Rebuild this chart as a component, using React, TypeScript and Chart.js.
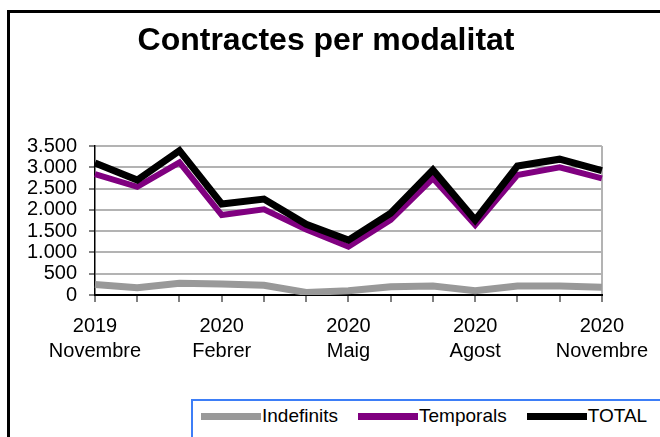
import React, { useEffect, useRef } from 'react';
import { Chart, registerables } from 'chart.js';

Chart.register(...registerables);

const categories = [
  '2019 Novembre', '2019 Desembre', '2020 Gener', '2020 Febrer', '2020 Març', '2020 Abril',
  '2020 Maig', '2020 Juny', '2020 Juliol', '2020 Agost', '2020 Setembre', '2020 Octubre', '2020 Novembre',
];
const xTickLabels: (string | string[])[] = [
  ['2019', 'Novembre'], '', '', ['2020', 'Febrer'], '', '', ['2020', 'Maig'], '', '',
  ['2020', 'Agost'], '', '', ['2020', 'Novembre'],
];
const yTickValues = [0, 500, 1000, 1500, 2000, 2500, 3000, 3500];
const yTickLabels = ['0', '500', '1.000', '1.500', '2.000', '2.500', '3.000', '3.500'];

const indefinits = [245, 170, 275, 258, 227, 60, 100, 196, 211, 102, 211, 211, 180];
const temporals = [2842, 2540, 3117, 1879, 2013, 1540, 1135, 1762, 2740, 1644, 2819, 3000, 2740];
const total = [3100, 2700, 3390, 2137, 2255, 1660, 1290, 1920, 2940, 1760, 3030, 3190, 2920];

const seriesNames = ['Indefinits', 'Temporals', 'TOTAL'];
const seriesColors = ['#999999', '#800080', '#000000'];

const FONT = "'Liberation Sans', Arial, Helvetica, sans-serif";
const GRID = '#b3b3b3';

export default function App() {
  const canvasRef = useRef<HTMLCanvasElement | null>(null);

  useEffect(() => {
    if (!canvasRef.current) return;
    const chart = new Chart(canvasRef.current, {
      type: 'line',
      data: {
        labels: categories,
        datasets: [
          { label: seriesNames[0], data: indefinits, borderColor: seriesColors[0], backgroundColor: seriesColors[0], borderWidth: 7, order: 3 },
          { label: seriesNames[1], data: temporals, borderColor: seriesColors[1], backgroundColor: seriesColors[1], borderWidth: 6, order: 2 },
          { label: seriesNames[2], data: total, borderColor: seriesColors[2], backgroundColor: seriesColors[2], borderWidth: 7, order: 1 },
        ],
      },
      options: {
        responsive: false,
        animation: false,
        devicePixelRatio: 1,
        layout: { padding: { left: 0, right: 8, top: 0, bottom: 0 } },
        elements: {
          point: { radius: 0, hoverRadius: 0 },
          line: { tension: 0, borderJoinStyle: 'miter', borderCapStyle: 'butt', fill: false },
        },
        plugins: {
          legend: { display: false },
          tooltip: { enabled: false },
          title: {
            display: true,
            text: 'Contractes per modalitat',
            color: '#000',
            font: { family: FONT, size: 32, weight: 'bold', lineHeight: 1.2 },
            padding: { top: 21.8, bottom: 85.8 },
          },
        },
        scales: {
          x: {
            type: 'category',
            offset: false,
            grid: {
              color: (c: any) => (c.index === categories.length - 1 ? GRID : 'rgba(0,0,0,0)'),
              lineWidth: 2,
              tickColor: '#000',
              tickWidth: 1,
              tickLength: 7,
            },
            border: { color: '#000', width: 2 },
            ticks: {
              autoSkip: false,
              maxRotation: 0,
              minRotation: 0,
              padding: 12,
              color: '#000',
              font: { family: FONT, size: 20, lineHeight: 1.25 },
              callback: (_v: any, i: number) => xTickLabels[i],
            },
            afterFit: (s: any) => { s.height = 142; },
          },
          y: {
            position: 'left',
            min: 0,
            max: 3500,
            afterBuildTicks: (s: any) => { s.ticks = yTickValues.map((v) => ({ value: v })); },
            grid: { color: GRID, lineWidth: 2, tickColor: '#000', tickWidth: 1, tickLength: 6 },
            border: { color: '#000', width: 1.5 },
            ticks: {
              autoSkip: false,
              padding: 12,
              color: '#000',
              font: { family: FONT, size: 20 },
              callback: (_v: any, i: number) => yTickLabels[i],
            },
            afterFit: (s: any) => { s.width = 95; },
          },
          yRight: {
            type: 'linear',
            position: 'right',
            display: true,
            grid: { display: false, drawTicks: false },
            border: { display: false },
            ticks: { display: false },
            afterFit: (s: any) => { s.width = 48; },
          },
        },
      },
    } as any);
    return () => chart.destroy();
  }, []);

  return (
    <div style={{ position: 'absolute', left: 0, top: 0, width: 660, height: 437, overflow: 'hidden', background: '#fff' }}>
      <canvas ref={canvasRef} width={660} height={437} style={{ position: 'absolute', left: 0, top: 0, width: 660, height: 437 }} />
      <div style={{ position: 'absolute', left: 7, top: 10, width: 720, height: 520, border: '3px solid #000', boxSizing: 'border-box', pointerEvents: 'none' }} />
      <div style={{ position: 'absolute', left: 191, top: 399, width: 560, height: 70, border: '2px solid #3d7ef7', boxSizing: 'border-box', background: '#fff' }} />
      <div style={{ position: 'absolute', left: 201, top: 405, display: 'flex', alignItems: 'center', gap: 20, fontFamily: FONT, fontSize: 19, color: '#000', whiteSpace: 'nowrap', lineHeight: '22px' }}>
        {seriesNames.map((name, i) => (
          <div key={name} style={{ display: 'flex', alignItems: 'center' }}>
            <span style={{ display: 'inline-block', width: 60, height: 7, background: seriesColors[i], marginRight: 1 }} />
            <span>{name}</span>
          </div>
        ))}
      </div>
    </div>
  );
}
